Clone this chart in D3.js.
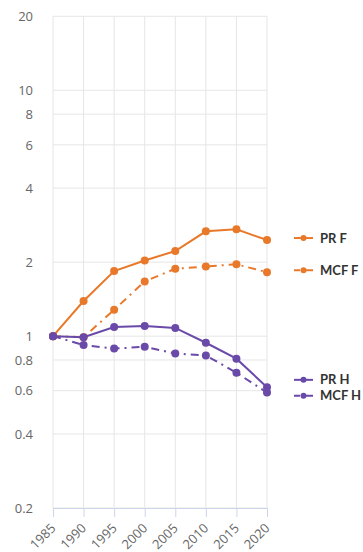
<!DOCTYPE html>
<html>
<head>
<meta charset="utf-8">
<script src="https://cdn.jsdelivr.net/npm/d3@7"></script>
<style>
  html, body { margin: 0; padding: 0; background: #fff; }
  svg { display: block; font-family: "Open Sans", "DejaVu Sans", sans-serif; }
</style>
</head>
<body>
<svg id="chart" width="363" height="552"></svg>
<script>
const years = [1985, 1990, 1995, 2000, 2005, 2010, 2015, 2020];
const yTicks = [0.2, 0.4, 0.6, 0.8, 1, 2, 4, 6, 8, 10, 20];
const seriesNames = ["PR F", "MCF F", "PR H", "MCF H"];
const prF  = [1, 1.39, 1.84, 2.03, 2.22, 2.67, 2.72, 2.46];
const mcfF = [1, 0.99, 1.28, 1.67, 1.88, 1.92, 1.96, 1.82];
const prH  = [1, 0.99, 1.09, 1.10, 1.08, 0.94, 0.81, 0.62];
const mcfH = [1, 0.92, 0.89, 0.905, 0.85, 0.835, 0.71, 0.59];
const seriesValues = [prF, mcfF, prH, mcfH];
const seriesColors = ["#e8792a", "#e8792a", "#6a4aa8", "#6a4aa8"];
const seriesDash = [null, "8,5,2,5", null, "8,5,2,5"];

(function () {
const svg = d3.select("#chart");
const pLeft = 53, pRight = 267, pTop = 16.3, pBottom = 508;

const x = d3.scalePoint().domain(years).range([pLeft, pRight]);
const y = d3.scaleLog().domain([0.2, 20]).range([pBottom, pTop]);

// grid
const g = svg.append("g");
g.selectAll("line.h").data(yTicks).enter().append("line")
  .attr("x1", pLeft).attr("x2", pRight)
  .attr("y1", d => y(d)).attr("y2", d => y(d))
  .attr("stroke", "#e6e6e6").attr("stroke-width", 1);
g.selectAll("line.v").data(years).enter().append("line")
  .attr("x1", d => x(d)).attr("x2", d => x(d))
  .attr("y1", pTop).attr("y2", pBottom)
  .attr("stroke", "#e6e6e6").attr("stroke-width", 1);

// y axis labels
const yAxis = d3.axisLeft(y).tickValues(yTicks).tickFormat(d => String(d)).tickSize(0).tickPadding(20);
const ya = svg.append("g").attr("transform", `translate(${pLeft},0)`).call(yAxis);
ya.select(".domain").remove();
ya.selectAll("text").attr("fill", "#666").style("font-size", "13px").style("font-family", "\"Open Sans\", sans-serif");

// x axis
const xAxis = d3.axisBottom(x).tickSize(9).tickPadding(4);
const xa = svg.append("g").attr("transform", `translate(0,${pBottom})`).call(xAxis);
xa.select(".domain").attr("stroke", "#ccd6eb");
xa.selectAll(".tick line").attr("stroke", "#ccd6eb");
xa.selectAll("text")
  .attr("fill", "#666").style("font-size", "13px").style("font-family", "\"Open Sans\", sans-serif")
  .attr("text-anchor", "end")
  .attr("x", 0).attr("y", 0).attr("dy", 0)
  .attr("transform", "translate(3,21) rotate(-45)");

// lines
const line = d3.line().x((d, i) => x(years[i])).y(d => y(d));
seriesValues.forEach((vals, si) => {
  svg.append("path").datum(vals)
    .attr("d", line).attr("fill", "none")
    .attr("stroke", seriesColors[si]).attr("stroke-width", 2)
    .attr("stroke-dasharray", seriesDash[si]);
  svg.selectAll(null).data(vals).enter().append("circle")
    .attr("cx", (d, i) => x(years[i])).attr("cy", d => y(d))
    .attr("r", 4).attr("fill", seriesColors[si]);
});

// legend labels beside last values, spread to avoid overlap
const lastY = seriesValues.map(v => y(v[v.length - 1]) - 2);
const order = d3.range(seriesValues.length).sort((a, b) => lastY[a] - lastY[b]);
const pos = lastY.slice();
const gap = 16;
for (let k = 1; k < order.length; k++) {
  const a = order[k - 1], b = order[k];
  if (pos[b] - pos[a] < gap) {
    const mid = (pos[a] + pos[b]) / 2;
    pos[a] = mid - gap / 2; pos[b] = mid + gap / 2;
  }
}
seriesNames.forEach((name, si) => {
  const ly = pos[si];
  const lg = svg.append("g");
  lg.append("line").attr("x1", 294).attr("x2", 313).attr("y1", ly).attr("y2", ly)
    .attr("stroke", seriesColors[si]).attr("stroke-width", 2)
    .attr("stroke-dasharray", seriesDash[si] ? "6,5,8" : null);
  lg.append("circle").attr("cx", 303.5).attr("cy", ly).attr("r", 3).attr("fill", seriesColors[si]);
  lg.append("text").attr("x", 320).attr("y", ly).attr("dy", "0.35em")
    .attr("fill", "#333").style("font-size", "13px").style("font-weight", "bold")
    .style("font-family", "Lato, sans-serif")
    .text(name);
});
})();
</script>
</body>
</html>
